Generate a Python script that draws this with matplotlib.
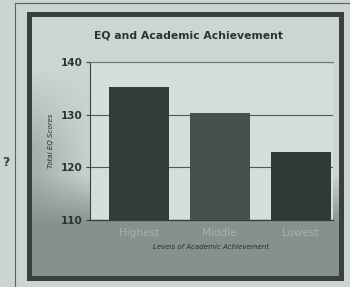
import matplotlib
matplotlib.use("Agg")
import matplotlib.pyplot as plt
import numpy as np
from matplotlib.patches import Rectangle
from matplotlib.lines import Line2D

categories = ["Highest", "Middle", "Lowest"]
values = [135.2, 130.4, 122.9]
yticks = [110, 120, 130, 140]
title = "EQ and Academic Achievement"
xlabel = "Levels of Academic Achievement"
ylabel = "Total EQ Scores"

W, H = 350, 287
fig = plt.figure(figsize=(W / 100, H / 100), dpi=100)
fig.patch.set_facecolor("#cbd4d0")

def fx(px):
    return px / W

def fy(py):
    return 1 - py / H

# inner gradient background (pixel-space shading of the chart frame)
X0, X1, Y0, Y1 = 29, 341, 14, 278
bg = fig.add_axes([fx(X0), fy(Y1), fx(X1) - fx(X0), fy(Y0) - fy(Y1)], zorder=0)
py = np.linspace(Y0, Y1, 264)[:, None]
px = np.linspace(X0, X1, 312)[None, :]
top = np.array([0.80, 0.84, 0.82])
bot = np.array([0.52, 0.57, 0.55])
w = np.clip((py - 175) / 50, 0, 1)
wl = np.clip((95 - px) / 60, 0, 1) * np.clip((py - 70) / 80, 0, 1) * 0.55
mix = np.clip(w + wl * (1 - w), 0, 1)[..., None]
img = top * (1 - mix) + bot * mix
bg.imshow(img, aspect="auto", extent=[0, 1, 0, 1], origin="upper")
bg.set_axis_off()

# frame
fig.add_artist(Rectangle((fx(X0), fy(Y1)), fx(X1) - fx(X0), fy(Y0) - fy(Y1),
                         transform=fig.transFigure, fill=False,
                         edgecolor="#39413f", linewidth=3.6, zorder=5))
fig.add_artist(Line2D([fx(15), fx(350)], [fy(3), fy(3)], transform=fig.transFigure,
                      color="#59625f", linewidth=0.8))
fig.add_artist(Line2D([fx(15), fx(15)], [fy(3), fy(287)], transform=fig.transFigure,
                      color="#59625f", linewidth=0.8))
fig.text(fx(6), fy(163), "?", fontsize=9, fontweight="bold", color="#3c4442",
         ha="center", va="center")

ax = fig.add_axes([fx(90), fy(220), fx(333) - fx(90), fy(62) - fy(220)], zorder=2)
ax.set_facecolor("#d6dedb")
x = np.arange(len(categories))
colors = ["#343c3b", "#48504e", "#313938"]
ax.bar(x, values, width=0.74, color=colors, zorder=3)
ax.set_ylim(110, 140)
ax.set_xlim(-0.6, 2.4)
ax.set_yticks(yticks)
ax.set_yticklabels([str(v) for v in yticks], fontsize=7.5, fontweight="bold", color="#2c3332")
ax.set_xticks(x)
ax.set_xticklabels(categories, fontsize=7.5, color="#a8b2af")
ax.tick_params(axis="x", length=0, pad=6)
ax.tick_params(axis="y", length=3, width=0.8, color="#39413f", pad=2)
ax.grid(axis="y", color="#4f5856", linewidth=0.8, zorder=1)
ax.spines["right"].set_visible(False)
ax.spines["top"].set_color("#6a7371")
ax.spines["top"].set_linewidth(0.8)
ax.spines["left"].set_color("#39413f")
ax.spines["bottom"].set_color("#39413f")
ax.spines["bottom"].set_linewidth(1.0)
ax.set_xlabel(xlabel, fontsize=5, style="italic", color="#263030", labelpad=4)
ax.set_ylabel(ylabel, fontsize=5, style="italic", color="#263030", labelpad=5)

fig.text(fx(188), fy(36), title, fontsize=7.8, fontweight="bold", color="#2c3332",
         ha="center", va="center")

fig.savefig("out.png", dpi=100, facecolor=fig.get_facecolor())
